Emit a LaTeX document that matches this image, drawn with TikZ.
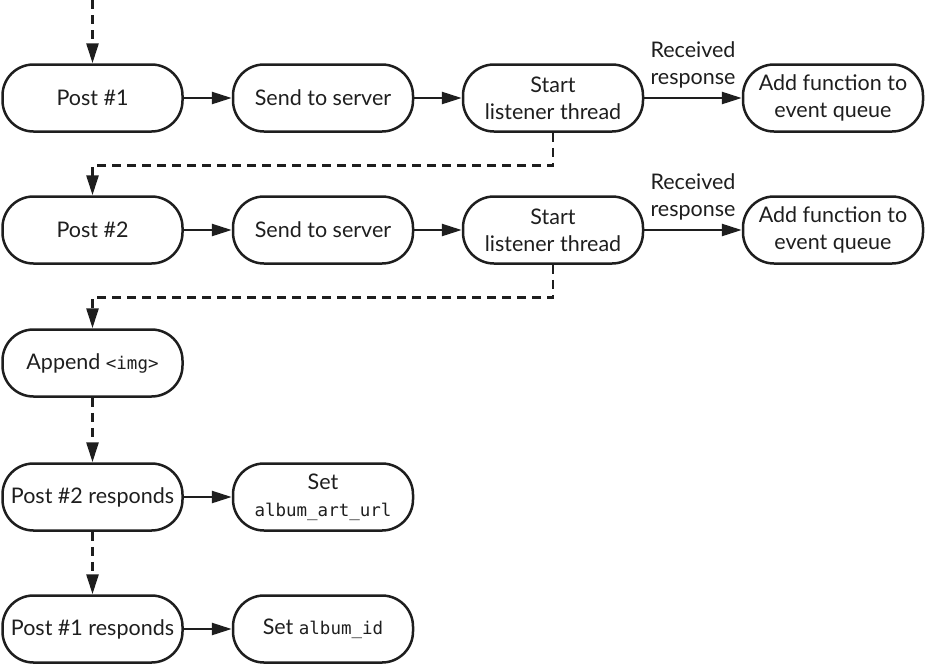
\documentclass[tikz,border=0pt]{standalone}
\usepackage{fontspec}
\setmainfont{Lato}
\setmonofont{DejaVu Sans Mono}
\usetikzlibrary{arrows.meta}
\definecolor{ink}{HTML}{1E1E1E}
\newcommand{\mycode}[1]{{\fontsize{17.5}{27}\selectfont\ttfamily #1}}
\tikzset{
  box/.style={draw=ink, line width=2.5pt, rounded corners=31pt, minimum width=180pt,
    minimum height=67pt, align=center, font=\fontsize{21.5}{27}\selectfont, text=ink, inner sep=0pt},
  solidarrow/.style={draw=ink, line width=2.5pt, -{Triangle[length=20pt,width=12pt]}},
  dasharrow/.style={draw=ink, line width=2.7pt, dash pattern=on 9pt off 6pt, -{Triangle[length=20pt,width=12pt]}},
  lbl/.style={font=\fontsize{21.5}{27}\selectfont, text=ink, align=center, inner sep=0pt}
}
\begin{document}
\begin{tikzpicture}[x=1pt,y=-1pt]
\useasboundingbox (0,0) rectangle (926,665);
% row 1
\node[box] (p1) at (92.5,98) {Post \#1};
\node[box] (s1) at (323,98) {Send to server};
\node[box] (l1) at (553,98) {Start\\listener thread};
\node[box] (a1) at (833,98) {Add function to\\event queue};
% row 2
\node[box] (p2) at (92.5,230) {Post \#2};
\node[box] (s2) at (323,230) {Send to server};
\node[box] (l2) at (553,230) {Start\\listener thread};
\node[box] (a2) at (833,230) {Add function to\\event queue};
% row 3
\node[box] (ap) at (92.5,363) {Append \mycode{<img>}};
% row 4
\node[box] (r2) at (92.5,497) {Post \#2 responds};
\node[box] (u2) at (323,497) {Set\\\mycode{album\_art\_url}};
% row 5
\node[box] (r1) at (92.5,629) {Post \#1 responds};
\node[box] (u1) at (323,629) {Set \mycode{album\_id}};
\coordinate (top) at (92.5,0);
% solid arrows
\draw[solidarrow] (p1) -- (s1);
\draw[solidarrow] (s1) -- (l1);
\draw[solidarrow] (l1) -- node[lbl, above=9pt] {Received\\response} (a1);
\draw[solidarrow] (p2) -- (s2);
\draw[solidarrow] (s2) -- (l2);
\draw[solidarrow] (l2) -- node[lbl, above=9pt] {Received\\response} (a2);
\draw[solidarrow] (r2) -- (u2);
\draw[solidarrow] (r1) -- (u1);
% dashed arrows
\draw[dasharrow] (top) -- (p1.north);
\draw[dasharrow] (l1.south) -- ++(0,33) -| (p2.north);
\draw[dasharrow] (l2.south) -- ++(0,33) -| (ap.north);
\draw[dasharrow] (ap.south) -- (r2.north);
\draw[dasharrow] (r2.south) -- (r1.north);
\end{tikzpicture}
\end{document}
